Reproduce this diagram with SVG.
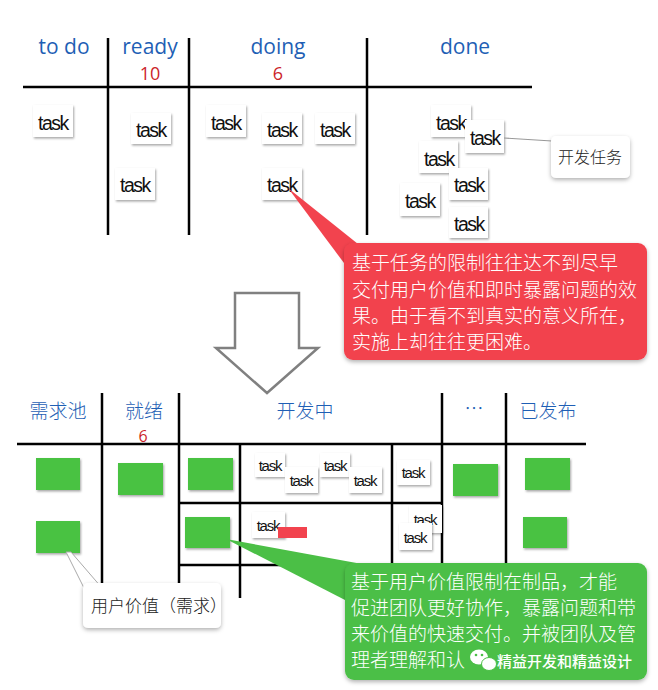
<svg xmlns="http://www.w3.org/2000/svg" width="658" height="690" viewBox="0 0 658 690">
<defs>
<filter id="sh" x="-20%" y="-20%" width="150%" height="160%">
<feDropShadow dx="1" dy="1.5" stdDeviation="1.3" flood-color="#000" flood-opacity="0.35"/>
</filter>
<filter id="sh2" x="-10%" y="-10%" width="120%" height="130%">
<feDropShadow dx="0" dy="2" stdDeviation="2" flood-color="#000" flood-opacity="0.3"/>
</filter>
</defs>
<style>
.ln{stroke:#000;stroke-width:2.5;fill:none}
.card{fill:#fff;filter:url(#sh)}
.tk{font-family:"Liberation Sans",Arial,sans-serif;font-size:19.5px;letter-spacing:-1.5px;fill:#111;text-anchor:middle}
.tks{font-family:"Liberation Sans",Arial,sans-serif;font-size:15px;letter-spacing:-1.2px;fill:#111;text-anchor:middle}
.hd{font-family:"Open Sans","Noto Sans CJK SC",sans-serif;font-size:21px;fill:#1f5fb5;text-anchor:middle}
.hdc{font-family:"Noto Sans CJK SC",sans-serif;font-size:19px;font-weight:300;fill:#1f5fb5;text-anchor:middle}
.num{font-family:"Open Sans","DejaVu Sans",sans-serif;font-size:18px;fill:#cc1f2a;text-anchor:middle}
.gc{fill:#48c243;filter:url(#sh)}
.ct{font-family:"Noto Sans CJK SC",sans-serif;font-size:19px;font-weight:300;fill:#fff}
.lb{font-family:"Noto Sans CJK SC",sans-serif;font-weight:300;fill:#222}
</style>
<rect width="658" height="690" fill="#fff"/>

<!-- top board -->
<g id="board-top">
<line class="ln" x1="23" y1="87" x2="532" y2="87"/>
<line class="ln" x1="108" y1="38" x2="108" y2="235"/>
<line class="ln" x1="189" y1="38" x2="189" y2="235"/>
<line class="ln" x1="367" y1="38" x2="367" y2="235"/>
<text class="hd" x="64" y="54">to do</text>
<text class="hd" x="150" y="54">ready</text>
<text class="num" x="150" y="80">10</text>
<text class="hd" x="278" y="54">doing</text>
<text class="num" x="278" y="80">6</text>
<text class="hd" x="465" y="54">done</text>
</g>

<g id="task-todo-1"><rect class="card" x="33" y="105" width="40" height="32"/><text class="tk" x="53" y="130">task</text></g>
<g id="task-ready-1"><rect class="card" x="131" y="113" width="40" height="31"/><text class="tk" x="151" y="137">task</text></g>
<g id="task-ready-2"><rect class="card" x="115" y="168" width="40" height="32"/><text class="tk" x="135" y="192">task</text></g>
<g id="task-doing-1"><rect class="card" x="206" y="105" width="40" height="32"/><text class="tk" x="226" y="130">task</text></g>
<g id="task-doing-2"><rect class="card" x="262" y="113" width="40" height="31"/><text class="tk" x="282" y="137">task</text></g>
<g id="task-doing-3"><rect class="card" x="315" y="113" width="40" height="31"/><text class="tk" x="335" y="137">task</text></g>
<g id="task-doing-4"><rect class="card" x="262" y="168" width="40" height="32"/><text class="tk" x="282" y="192">task</text></g>
<g id="task-done-1"><rect class="card" x="431" y="105" width="40" height="32"/><text class="tk" x="451" y="130">task</text></g>
<g id="task-done-2"><rect class="card" x="465" y="120" width="39" height="33"/><text class="tk" x="485" y="145">task</text></g>
<g id="task-done-3"><rect class="card" x="419" y="141" width="39" height="32"/><text class="tk" x="439" y="166">task</text></g>
<g id="task-done-4"><rect class="card" x="449" y="168" width="39" height="32"/><text class="tk" x="469" y="192">task</text></g>
<g id="task-done-5"><rect class="card" x="400" y="183" width="40" height="33"/><text class="tk" x="420" y="208">task</text></g>
<g id="task-done-6"><rect class="card" x="449" y="207" width="39" height="31"/><text class="tk" x="469" y="231">task</text></g>

<!-- bottom board -->
<g id="board-bottom">
<line class="ln" x1="17" y1="444" x2="586" y2="444"/>
<line class="ln" x1="102" y1="393" x2="102" y2="600"/>
<line class="ln" x1="179" y1="393" x2="179" y2="600"/>
<line class="ln" x1="442" y1="393" x2="442" y2="575"/>
<line class="ln" x1="506" y1="393" x2="506" y2="575"/>
<line class="ln" x1="240" y1="444" x2="240" y2="598"/>
<line class="ln" x1="392" y1="444" x2="392" y2="575"/>
<line class="ln" x1="179" y1="503" x2="442" y2="503"/>
<line class="ln" x1="179" y1="565" x2="392" y2="565"/>
<text class="hdc" x="58" y="418">需求池</text>
<text class="hdc" x="144" y="418">就绪</text>
<text class="num" x="143" y="442" style="font-size:16px">6</text>
<text class="hdc" x="305" y="418">开发中</text>
<text class="hdc" x="474" y="416">…</text>
<text class="hdc" x="548" y="418">已发布</text>
</g>

<g id="value-pool-1"><rect class="gc" x="36" y="458" width="44" height="32"/></g>
<g id="value-pool-2"><rect class="gc" x="36" y="521" width="44" height="32"/></g>
<g id="value-ready-1"><rect class="gc" x="118" y="463" width="45" height="32"/></g>
<g id="value-dev-1"><rect class="gc" x="188" y="458" width="45" height="32"/></g>
<g id="value-dev-2"><rect class="gc" x="185" y="517" width="45" height="31"/></g>
<g id="value-more-1"><rect class="gc" x="453" y="464" width="45" height="32"/></g>
<g id="value-released-1"><rect class="gc" x="525" y="458" width="45" height="32"/></g>
<g id="value-released-2"><rect class="gc" x="523" y="517" width="44" height="31"/></g>

<g id="subtask-1"><rect class="card" x="255" y="453" width="30" height="24"/><text class="tks" x="270" y="471">task</text></g>
<g id="subtask-2"><rect class="card" x="285" y="467" width="33" height="26"/><text class="tks" x="301" y="486">task</text></g>
<g id="subtask-3"><rect class="card" x="320" y="453" width="30" height="24"/><text class="tks" x="335" y="471">task</text></g>
<g id="subtask-4"><rect class="card" x="349" y="467" width="33" height="26"/><text class="tks" x="365" y="486">task</text></g>
<g id="subtask-5"><rect class="card" x="397" y="460" width="33" height="25"/><text class="tks" x="413" y="478">task</text></g>
<g id="subtask-6"><rect class="card" x="409" y="505" width="33" height="28"/><text class="tks" x="425" y="525">task</text></g>
<g id="subtask-7"><rect class="card" x="399" y="523" width="33" height="27"/><text class="tks" x="415" y="543">task</text></g>
<g id="subtask-8"><rect class="card" x="252" y="512" width="33" height="26"/><text class="tks" x="268" y="531">task</text><rect x="278" y="527" width="29" height="11" fill="#f2434e"/></g>

<!-- transition arrow -->
<g id="arrow-down">
<polygon points="235,293 299,293 299,348 318,348 267,393 216,348 235,348" fill="#fff" stroke="#808080" stroke-width="2.5" stroke-linejoin="miter"/>
</g>

<!-- connectors / callout pointers -->
<g id="connectors">
<line x1="504" y1="138" x2="552" y2="141" stroke="#999" stroke-width="1.2"/>
<polygon points="288,188 358,244 344,263" fill="#f2434e"/>
<polygon points="226,539 362,564 345,600" fill="#4bbf46"/>
<polygon points="66,552 84,588 102,588 71,552" fill="#fff" stroke="#aaa" stroke-width="1"/>
</g>

<g id="callout-dev-task">
<rect x="551" y="136" width="79" height="42" rx="5" fill="#fff" filter="url(#sh2)"/>
<text class="lb" x="590" y="163" font-size="16" text-anchor="middle">开发任务</text>
</g>

<g id="callout-red">
<rect x="344" y="243" width="303" height="117" rx="9" fill="#f2434e" filter="url(#sh2)"/>
<text class="ct" x="352" y="270">基于任务的限制往往达不到尽早</text>
<text class="ct" x="352" y="297">交付用户价值和即时暴露问题的效</text>
<text class="ct" x="352" y="323">果。由于看不到真实的意义所在，</text>
<text class="ct" x="352" y="349">实施上却往往更困难。</text>
</g>

<g id="callout-user-value">
<rect x="83" y="583" width="138" height="45" rx="5" fill="#fff" filter="url(#sh2)"/>
<text class="lb" x="91" y="612" font-size="17">用户价值（需求）</text>
</g>

<g id="callout-green">
<rect x="345" y="563" width="302" height="117" rx="9" fill="#4bbf46" filter="url(#sh2)"/>
<text class="ct" x="351" y="589">基于用户价值限制在制品，才能</text>
<text class="ct" x="351" y="615">促进团队更好协作，暴露问题和带</text>
<text class="ct" x="351" y="641">来价值的快速交付。并被团队及管</text>
<text class="ct" x="351" y="667">理者理解和认</text>
<g id="watermark">
<ellipse cx="479" cy="657" rx="9" ry="7.5" fill="#fff"/>
<ellipse cx="489" cy="664" rx="7.5" ry="6.5" fill="#fff" stroke="#4bbf46" stroke-width="1"/>
<circle cx="476" cy="655" r="1.3" fill="#4bbf46"/>
<circle cx="482" cy="655" r="1.3" fill="#4bbf46"/>
<text x="497" y="667" font-family="Noto Sans CJK SC, sans-serif" font-size="15" font-weight="500" fill="#fff">精益开发和精益设计</text>
</g>
</g>
</svg>
